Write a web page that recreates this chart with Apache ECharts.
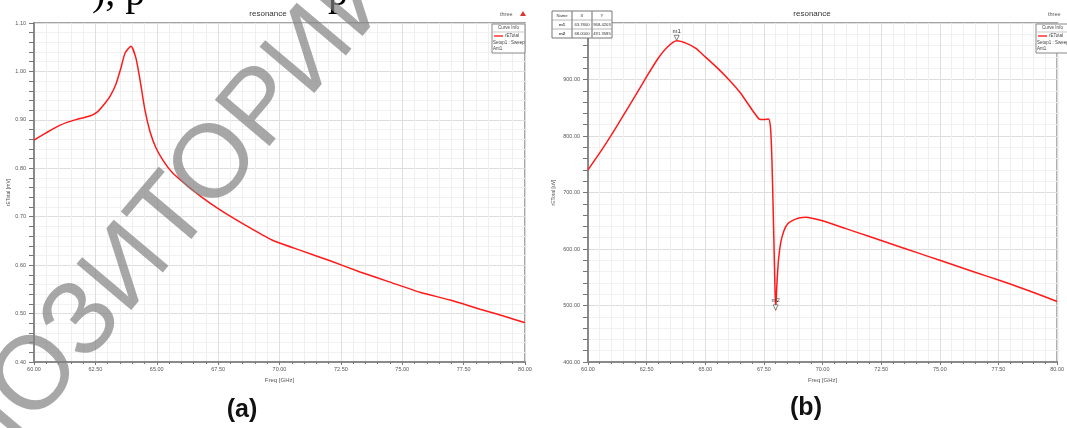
<!DOCTYPE html>
<html><head><meta charset="utf-8">
<script src="https://cdn.jsdelivr.net/npm/echarts@6/dist/echarts.min.js"></script>
<style>html,body{margin:0;padding:0;background:#fff}#c{width:1067px;height:428px}</style>
</head><body><div id="c"></div>
<script>
// Panel (a)
const freqA = [60.00,60.49,61.06,61.67,62.28,62.57,62.81,63.10,63.34,63.54,63.71,63.95,64.15,64.32,64.52,64.73,64.97,65.25,65.62,66.15,66.76,67.58,68.59,69.69,70.83,72.06,73.28,74.50,75.72,76.95,78.17,79.39,80.00];
const valA = [0.858,0.873,0.889,0.900,0.908,0.916,0.929,0.949,0.974,1.007,1.038,1.052,1.028,0.982,0.920,0.875,0.842,0.817,0.792,0.768,0.743,0.714,0.683,0.652,0.631,0.609,0.586,0.565,0.544,0.528,0.509,0.491,0.481];
// Panel (b)
const freqB = [60.0,60.5,61.0,61.5,62.0,62.5,63.0,63.4,63.78,64.2,64.6,65.0,65.5,66.0,66.5,67.0,67.3,67.5,67.7,67.78,67.84,67.9,67.95,68.0,68.05,68.12,68.22,68.35,68.5,68.75,69.0,69.3,69.6,70.0,71.0,72.0,73.0,74.0,75.0,76.0,77.0,78.0,79.0,80.0];
const valB = [740,770,802,836,870,905,938,958,968.42,964,955,940,921,900,876,846,830,829,830,815,760,660,570,491.36,535,580,612,632,644,651,655,656,654,650,636,622,608,594,580,566,552,538,523,507];
// markers (b)
const markerNames = ['m1','m2'];
const markerX = [63.78, 68.0];
const markerY = [968.4203, 491.3585];
// text
const titleText = 'resonance';
const xName = 'Freq [GHz]';
const yNameA = 'rETotal [mV]';
const yNameB = 'rETotal [uV]';
const panelLabels = ['(a)', '(b)'];

const chart = echarts.init(document.getElementById('c'), null, {renderer:'canvas'});
const F = 'Liberation Sans, Arial, sans-serif';
const gridA = {left:34, top:23, width:491, height:339};
const gridB = {left:588, top:23, width:477, height:339};

function xAxis(gi){
  return {type:'value', gridIndex:gi, min:60, max:80, interval:2.5,
    name:xName, nameLocation:'middle', nameGap:13, nameTextStyle:{fontSize:6, color:'#555', fontFamily:F},
    axisLine:{lineStyle:{color:'#8a8a8a', width:2}},
    axisTick:{show:true, length:3, lineStyle:{color:'#777'}},
    minorTick:{show:true, splitNumber:5, length:2, lineStyle:{color:'#777'}},
    axisLabel:{fontSize:5.5, color:'#555', fontFamily:F, margin:4, formatter:v=>v.toFixed(2)},
    splitLine:{show:true, lineStyle:{color:'#dedede', width:1}},
    minorSplitLine:{show:true, lineStyle:{color:'#efefef', width:1}}};
}
function yAxis(gi, min, max, iv, name, dec){
  return {type:'value', gridIndex:gi, min:min, max:max, interval:iv,
    name:name, nameLocation:'middle', nameGap:gi===0?22:30, nameTextStyle:{fontSize:5, color:'#555', fontFamily:F},
    axisLine:{show:true, lineStyle:{color:'#8a8a8a', width:2}},
    axisTick:{show:true, length:5, lineStyle:{color:'#777'}},
    minorTick:{show:true, splitNumber:5, length:5, lineStyle:{color:'#777'}},
    axisLabel:{fontSize:5.5, color:'#555', fontFamily:F, margin:8, formatter:v=>v.toFixed(dec)},
    splitLine:{show:true, lineStyle:{color:'#dedede', width:1}},
    minorSplitLine:{show:true, lineStyle:{color:'#f2f2f2', width:1}}};
}

const mpData = markerNames.map((n,i)=>({name:n, coord:[markerX[i], markerY[i]]}));

const G = [];
G.push({type:'text', x:268, y:14, style:{text:titleText, font:'8px '+F, fill:'#333', align:'center', verticalAlign:'middle'}});
G.push({type:'text', x:812, y:14, style:{text:titleText, font:'8px '+F, fill:'#333', align:'center', verticalAlign:'middle'}});
G.push({type:'text', x:500, y:14, style:{text:'three', font:'5.5px '+F, fill:'#555', align:'left', verticalAlign:'middle'}});
G.push({type:'polygon', shape:{points:[[520,16],[523,11],[526,16]]}, style:{fill:'#d33'}});
G.push({type:'text', x:1048, y:14, style:{text:'three', font:'5.5px '+F, fill:'#555', align:'left', verticalAlign:'middle'}});
function curveInfo(x0, y0, w){
  G.push({type:'rect', shape:{x:x0, y:y0, width:w, height:29}, style:{fill:'#fff', stroke:'#888', lineWidth:1}, z:50});
  G.push({type:'line', shape:{x1:x0, y1:y0+8, x2:x0+w, y2:y0+8}, style:{stroke:'#bbb', lineWidth:0.8}, z:51});
  G.push({type:'text', x:x0+w/2, y:y0+4, style:{text:'Curve Info', font:'4.5px '+F, fill:'#444', align:'center', verticalAlign:'middle'}, z:52});
  G.push({type:'line', shape:{x1:x0+2, y1:y0+12, x2:x0+11, y2:y0+12}, style:{stroke:'#f00', lineWidth:1.2}, z:52});
  G.push({type:'text', x:x0+13, y:y0+12, style:{text:'rETotal', font:'4.5px '+F, fill:'#444', align:'left', verticalAlign:'middle'}, z:52});
  G.push({type:'text', x:x0+1, y:y0+19, style:{text:'Setup1 : Sweep', font:'4.5px '+F, fill:'#444', align:'left', verticalAlign:'middle'}, z:52});
  G.push({type:'text', x:x0+1, y:y0+25, style:{text:'Ant1', font:'4.5px '+F, fill:'#444', align:'left', verticalAlign:'middle'}, z:52});
}
curveInfo(492, 24, 33);
curveInfo(1036, 24, 33);
(function(){
  const x0=552, y0=11, cw=[20,20,20], rh=9;
  const rows=[['Name','X','Y']].concat(markerNames.map((n,i)=>[n, markerX[i].toFixed(4), markerY[i].toFixed(4)]));
  G.push({type:'rect', shape:{x:x0, y:y0, width:60, height:rh*rows.length}, style:{fill:'#fff', stroke:'#777', lineWidth:1}, z:60});
  rows.forEach((r,ri)=>{
    if(ri>0) G.push({type:'line', shape:{x1:x0,y1:y0+ri*rh,x2:x0+60,y2:y0+ri*rh}, style:{stroke:'#999', lineWidth:0.7}, z:61});
    let cx=x0;
    r.forEach((t,ci)=>{
      if(ci>0) G.push({type:'line', shape:{x1:cx,y1:y0,x2:cx,y2:y0+rh*rows.length}, style:{stroke:'#999', lineWidth:0.7}, z:61});
      G.push({type:'text', x:cx+cw[ci]/2, y:y0+ri*rh+rh/2, style:{text:t, font:(ci===0&&ri>0?'bold ':'')+'4.2px '+F, fill:'#333', align:'center', verticalAlign:'middle'}, z:62});
      cx+=cw[ci];
    });
  });
})();
G.push({type:'text', x:242, y:410, style:{text:panelLabels[0], font:'bold 25px "Liberation Sans Narrow", "Liberation Sans", sans-serif', fill:'#111', align:'center', verticalAlign:'middle'}});
G.push({type:'text', x:806, y:408, style:{text:panelLabels[1], font:'bold 25px "Liberation Sans Narrow", "Liberation Sans", sans-serif', fill:'#111', align:'center', verticalAlign:'middle'}});
// cut-off page text fragment at the top
G.push({type:'text', x:92, y:-26, style:{text:'), р', font:'40px "Liberation Serif", serif', fill:'#000', align:'left', verticalAlign:'top'}});
G.push({type:'text', x:328, y:-26, style:{text:'р', font:'40px "Liberation Serif", serif', fill:'#000', align:'left', verticalAlign:'top'}});
// watermark
G.push({type:'text', x:-37, y:465, rotation:0.87, z:100, style:{text:'ПОЗИТОРИЙ', font:'104px "Liberation Sans", sans-serif', fill:'rgba(130,130,130,0.7)', align:'left', verticalAlign:'middle'}});

chart.setOption({
  animation:false,
  backgroundColor:'#fff',
  grid:[Object.assign({show:true, borderColor:'#a5a5a5', borderWidth:2, backgroundColor:'#fff'}, gridA),
        Object.assign({show:true, borderColor:'#a5a5a5', borderWidth:2, backgroundColor:'#fff'}, gridB)],
  xAxis:[xAxis(0), xAxis(1)],
  yAxis:[yAxis(0, 0.4, 1.1, 0.1, yNameA, 2), yAxis(1, 400, 1000, 100, yNameB, 2)],
  series:[
    {type:'line', xAxisIndex:0, yAxisIndex:0, data:freqA.map((f,i)=>[f,valA[i]]), showSymbol:false, smooth:0.2,
     lineStyle:{color:'#ff1a1a', width:1.5}},
    {type:'line', xAxisIndex:1, yAxisIndex:1, data:freqB.map((f,i)=>[f,valB[i]]), showSymbol:false, smooth:0.2,
     lineStyle:{color:'#ff1a1a', width:1.5},
     markPoint:{symbol:'triangle', symbolRotate:180, symbolSize:5, symbolOffset:[0,-3],
       itemStyle:{color:'#fff', borderColor:'#666', borderWidth:0.8},
       label:{show:true, position:'top', distance:1, fontSize:6, color:'#333', fontFamily:F, formatter:p=>p.name},
       data:mpData}}
  ],
  graphic:G
});
</script></body></html>
